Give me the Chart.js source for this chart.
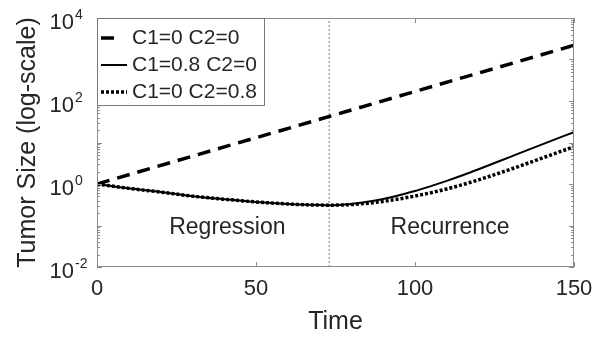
<!DOCTYPE html>
<html>
<head>
<meta charset="utf-8">
<script src="https://cdn.jsdelivr.net/npm/chart.js@4.4.1/dist/chart.umd.min.js"></script>
<style>
  html, body { margin: 0; padding: 0; background: #fff; }
  #wrap { width: 606px; height: 340px; }
</style>
</head>
<body>
<div id="wrap"><canvas id="tumorChart" width="606" height="340"></canvas></div>
<script>
// ── Data ────────────────────────────────────────────────────
// No treatment: pure exponential growth (straight on a log axis)
const timeNone = [0, 75, 150];
const sizeNone = [1, 47, 2200];

// C1 = 0.8, C2 = 0
const timeC1 = [0, 10, 20, 30, 40, 50, 60, 66, 73, 80, 85, 90, 95, 100, 105, 110, 115, 120, 130, 140, 150];
const sizeC1 = [1.0, 0.785, 0.64, 0.51, 0.43, 0.37, 0.33, 0.315, 0.309, 0.331, 0.372, 0.437, 0.537, 0.676, 0.891, 1.19, 1.62, 2.26, 4.52, 9.02, 17.8];

// C1 = 0, C2 = 0.8
const timeC2 = [0, 10, 20, 30, 40, 50, 60, 66, 73, 80, 85, 90, 95, 100, 105, 110, 115, 120, 130, 140, 150];
const sizeC2 = [1.0, 0.785, 0.64, 0.51, 0.43, 0.37, 0.33, 0.315, 0.309, 0.320, 0.343, 0.380, 0.437, 0.513, 0.617, 0.759, 0.966, 1.26, 2.26, 4.22, 7.94];

const seriesLabels = ['C1=0 C2=0', 'C1=0.8 C2=0', 'C1=0 C2=0.8'];

// time where regression turns into recurrence
const switchTime = 73;

const xTicks = [0, 50, 100, 150];
const yTickExps = [-2, 0, 2, 4];

const FONT = "'Liberation Sans', Arial, Helvetica, sans-serif";
const TEXT = '#262626';
const AXIS = '#8c8c8c';

const pts = (xs, ys) => xs.map((x, i) => ({ x: x, y: ys[i] }));

// ── Frame, ticks, y labels, region labels and legend ────────
const decorations = {
    id: 'decorations',
    afterDraw(chart) {
        const ctx = chart.ctx;
        const a = chart.chartArea;
        const xs = chart.scales.x;
        const ys = chart.scales.y;
        ctx.save();

        // box around the plot
        ctx.strokeStyle = AXIS;
        ctx.lineWidth = 1;
        ctx.strokeRect(a.left + 0.5, a.top + 0.5, a.right - a.left - 1, a.bottom - a.top - 1);

        // inward ticks
        ctx.beginPath();
        xTicks.forEach(v => {
            const px = Math.round(xs.getPixelForValue(v)) + 0.5;
            ctx.moveTo(px, a.bottom); ctx.lineTo(px, a.bottom - 5);
            ctx.moveTo(px, a.top); ctx.lineTo(px, a.top + 5);
        });
        for (let e = -2; e < 4; e++) {
            for (let m = 1; m < 10; m++) {
                const py = Math.round(ys.getPixelForValue(m * Math.pow(10, e))) + 0.5;
                const len = m === 1 ? 5 : 3;
                ctx.moveTo(a.left, py); ctx.lineTo(a.left + len, py);
                ctx.moveTo(a.right, py); ctx.lineTo(a.right - len, py);
            }
        }
        ctx.stroke();

        // y tick labels as 10 with superscript exponent
        ctx.fillStyle = TEXT;
        ctx.textBaseline = 'middle';
        yTickExps.forEach(e => {
            const py = ys.getPixelForValue(Math.pow(10, e));
            ctx.font = '22px ' + FONT;
            ctx.textAlign = 'right';
            ctx.fillText('10', 74, py + 5);
            ctx.font = '14px ' + FONT;
            ctx.textAlign = 'left';
            ctx.fillText(String(e), 75, py - 3);
        });

        // region labels
        ctx.font = '23px ' + FONT;
        ctx.textAlign = 'center';
        ctx.fillText('Regression', xs.getPixelForValue(41), ys.getPixelForValue(0.09));
        ctx.fillText('Recurrence', xs.getPixelForValue(111), ys.getPixelForValue(0.09));

        // legend box in the upper left corner
        const lx = a.left, ly = a.top, lw = 167, lh = 87;
        ctx.fillStyle = '#fff';
        ctx.fillRect(lx, ly, lw, lh);
        ctx.strokeStyle = '#777';
        ctx.strokeRect(lx + 0.5, ly + 0.5, lw, lh);

        const rows = [20, 47, 74];
        const sampleEnd = [115, 127, 127];
        seriesLabels.forEach((label, i) => {
            const ds = chart.data.datasets[i];
            const y = ly + rows[i];
            ctx.strokeStyle = ds.borderColor;
            ctx.lineWidth = ds.borderWidth;
            ctx.setLineDash(ds.borderDash || []);
            ctx.beginPath();
            ctx.moveTo(lx + 4, y);
            ctx.lineTo(sampleEnd[i], y);
            ctx.stroke();
            ctx.setLineDash([]);
            ctx.fillStyle = TEXT;
            ctx.font = '21px ' + FONT;
            ctx.textAlign = 'left';
            ctx.fillText(label, 132, y);
        });

        ctx.restore();
    }
};

new Chart(document.getElementById('tumorChart'), {
    type: 'line',
    data: {
        datasets: [
            {
                label: seriesLabels[0],
                data: pts(timeNone, sizeNone),
                borderColor: '#000',
                borderWidth: 3.5,
                borderDash: [13, 8],
                tension: 0
            },
            {
                label: seriesLabels[1],
                data: pts(timeC1, sizeC1),
                borderColor: '#000',
                borderWidth: 2,
                cubicInterpolationMode: 'monotone'
            },
            {
                label: seriesLabels[2],
                data: pts(timeC2, sizeC2),
                borderColor: '#000',
                borderWidth: 3.5,
                borderDash: [3, 2],
                cubicInterpolationMode: 'monotone'
            },
            {
                // boundary between the two phases
                label: 'switch',
                data: [{ x: switchTime, y: 0.01 }, { x: switchTime, y: 10000 }],
                borderColor: '#777',
                borderWidth: 1,
                borderDash: [2, 2],
                tension: 0
            }
        ]
    },
    options: {
        responsive: false,
        animation: false,
        layout: { padding: { top: 18, right: 32, left: 0, bottom: 0 } },
        elements: { point: { radius: 0 } },
        plugins: { legend: { display: false }, tooltip: { enabled: false } },
        scales: {
            x: {
                type: 'linear',
                min: 0,
                max: 150,
                afterBuildTicks: s => { s.ticks = xTicks.map(v => ({ value: v })); },
                ticks: { font: { family: FONT, size: 22 }, color: TEXT, padding: 9 },
                grid: { display: false, drawTicks: false },
                border: { display: false },
                title: {
                    display: true,
                    text: 'Time',
                    color: TEXT,
                    font: { family: FONT, size: 25 },
                    padding: { top: 0, bottom: 3 }
                },
                afterFit: s => { s.height = 73; }
            },
            y: {
                type: 'logarithmic',
                min: 0.01,
                max: 10000,
                ticks: { display: false },
                grid: { display: false, drawTicks: false },
                border: { display: false },
                title: {
                    display: true,
                    text: 'Tumor Size (log-scale)',
                    color: TEXT,
                    font: { family: FONT, size: 25 },
                    padding: { top: 13, bottom: 0 }
                },
                afterFit: s => { s.width = 97; }
            }
        }
    },
    plugins: [decorations]
});
</script>
</body>
</html>
